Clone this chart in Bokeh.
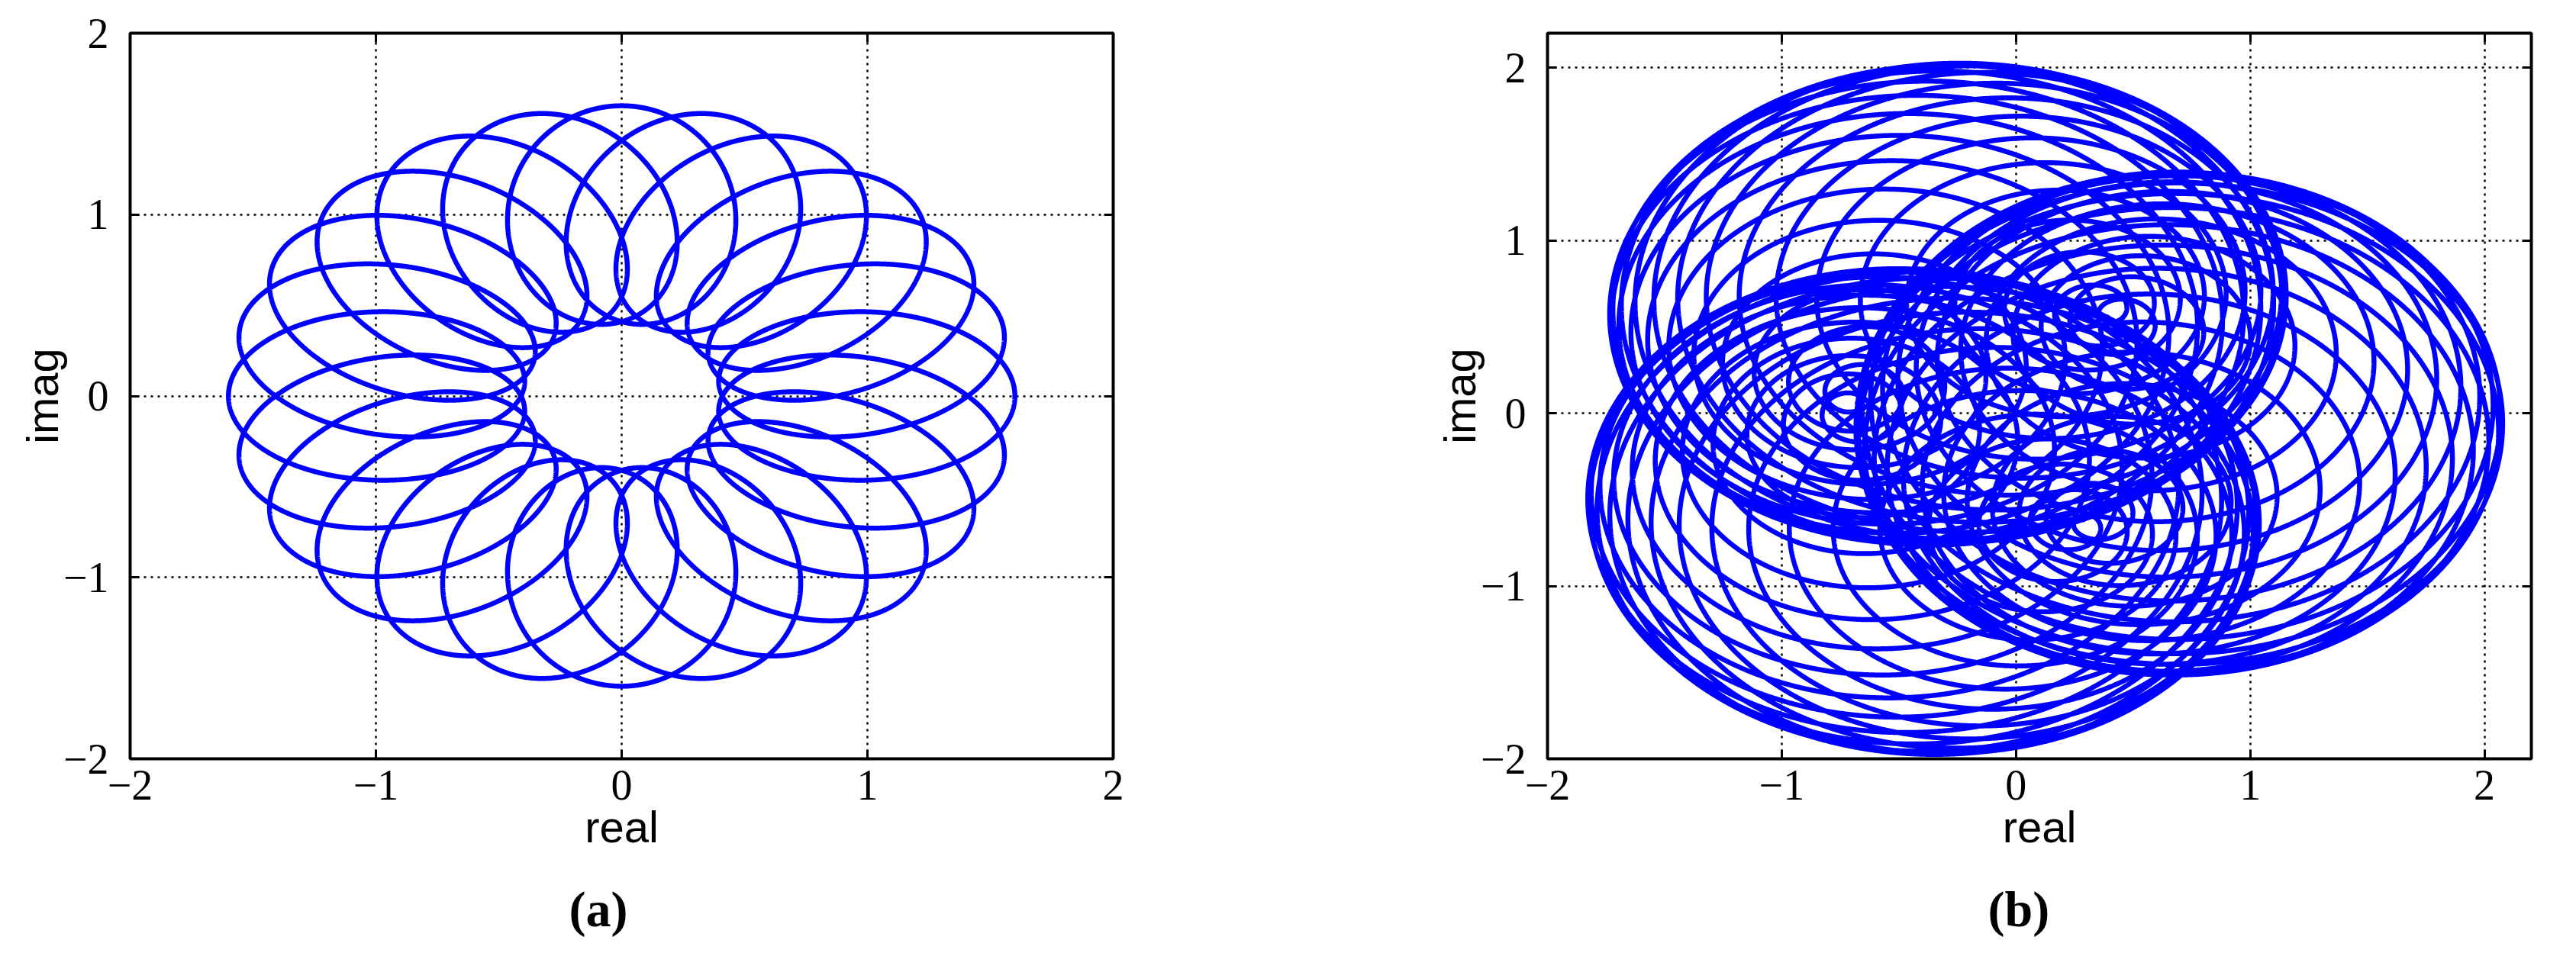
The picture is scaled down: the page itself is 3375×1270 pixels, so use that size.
import numpy as np
from bokeh.plotting import figure
from bokeh.layouts import row
from bokeh.models import Range1d, FixedTicker, LinearAxis, Title
from bokeh.embed import file_html
from bokeh.resources import INLINE

# ---- data: phasor terms (amplitude, harmonic order) ----
# (a) fundamental plus a pair of sidebands: 24 elliptical loops
a_amplitudes = [1.0, 0.5, 0.1]
a_orders = [1, 25, -23]
a_rotation_deg = 0.0
# (b) slow phasor plus two beating fast phasors: three lobes of nested loops
b_amplitudes = [0.70, 0.70, 0.68]
b_orders = [1, 76, 79]
b_rotation_deg = -5.0

tick_values = [-2, -1, 0, 1, 2]
tick_labels = {-2: "\u22122", -1: "\u22121", 0: "0", 1: "1", 2: "2"}
x_label = "real"
y_label = "imag"
captions = ["(a)", "(b)"]


def trajectory(amps, orders, rot_deg, n):
    t = np.linspace(0.0, 2.0 * np.pi, n)
    z = np.zeros(n, dtype=complex)
    for a, k in zip(amps, orders):
        z += a * np.exp(1j * k * t)
    z *= np.exp(1j * np.deg2rad(rot_deg))
    return z.real, z.imag


SERIF = "Liberation Serif"
SANS = "Liberation Sans"


def style(p, caption, caption_offset):
    p.outline_line_color = "black"
    p.outline_line_width = 4
    p.outline_line_alpha = 1.0
    p.background_fill_color = "white"
    p.border_fill_color = "white"
    for g in (p.xgrid[0], p.ygrid[0]):
        g.ticker = FixedTicker(ticks=tick_values)
        g.grid_line_color = "black"
        g.grid_line_dash = "3 6"
        g.grid_line_width = 2.5
        g.grid_line_alpha = 1.0
    for ax in p.axis:
        ax.ticker = FixedTicker(ticks=tick_values)
        ax.axis_line_color = None
        ax.major_tick_in = 12
        ax.major_tick_out = 0
        ax.major_tick_line_width = 3
        ax.major_tick_line_color = "black"
        ax.minor_tick_line_color = None
        ax.major_label_overrides = tick_labels
        ax.major_label_text_font = SERIF
        ax.major_label_text_font_size = "56px"
        ax.major_label_text_color = "black"
        ax.axis_label_text_font = SANS
        ax.axis_label_text_font_size = "58px"
        ax.axis_label_text_font_style = "normal"
        ax.axis_label_text_color = "black"
    p.xaxis[0].major_label_standoff = 15
    p.xaxis[0].axis_label_standoff = 0
    p.yaxis[0].major_label_standoff = 28
    p.yaxis[0].axis_label_standoff = -8
    p.xaxis[0].axis_label = x_label
    p.yaxis[0].axis_label = y_label
    # mirrored tick marks on top and right (no labels drawn)
    for side in ("above", "right"):
        ax = LinearAxis(ticker=FixedTicker(ticks=tick_values))
        ax.axis_line_color = None
        ax.major_tick_in = 12
        ax.major_tick_out = 0
        ax.major_tick_line_width = 3
        ax.major_tick_line_color = "black"
        ax.minor_tick_line_color = None
        ax.major_label_text_color = None
        ax.major_label_text_font_size = "8px"
        ax.major_label_standoff = 0
        p.add_layout(ax, side)
    p.add_layout(Title(text=caption, align="left", offset=caption_offset,
                       text_font=SERIF, text_font_size="66px", text_font_style="bold",
                       text_color="black", standoff=69), "below")


H = 1262
FRAME_TOP = 43
FRAME_H = 957

# left panel (a)
p1 = figure(width=1658, height=H, x_range=Range1d(-2, 2), y_range=Range1d(-2, 2),
            output_backend="svg", toolbar_location=None, title=None,
            min_border_left=170, min_border_right=200,
            min_border_top=FRAME_TOP, min_border_bottom=H - FRAME_TOP - FRAME_H)
style(p1, captions[0], 575)
xa, ya = trajectory(a_amplitudes, a_orders, a_rotation_deg, 60000)
p1.line(xa, ya, line_color="#0000ff", line_width=6.5)

# right panel (b)
p2 = figure(width=1703, height=H, x_range=Range1d(-2, 2.2), y_range=Range1d(-2, 2.2),
            output_backend="svg", toolbar_location=None, title=None,
            min_border_left=369, min_border_right=45,
            min_border_top=FRAME_TOP, min_border_bottom=H - FRAME_TOP - FRAME_H)
style(p2, captions[1], 577)
xb, yb = trajectory(b_amplitudes, b_orders, b_rotation_deg, 220000)
p2.line(xb, yb, line_color="#0000ff", line_width=6.5)

layout = row(p1, p2)
open("out.html", "w").write(file_html(layout, INLINE))
